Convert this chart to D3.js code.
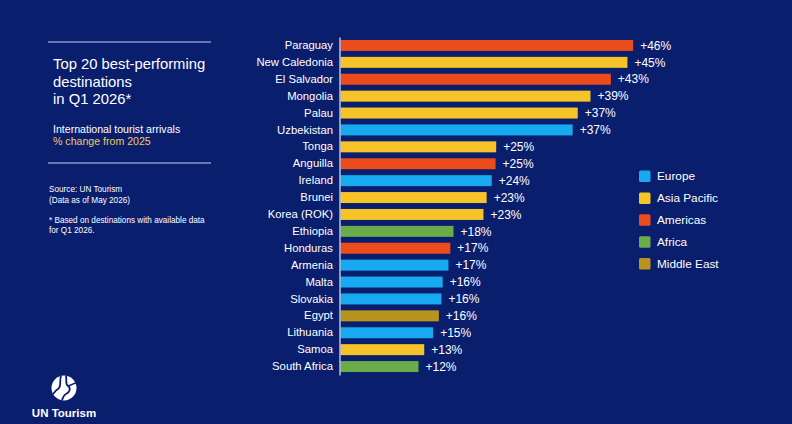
<!DOCTYPE html>
<html>
<head>
<meta charset="utf-8">
<script src="https://cdn.jsdelivr.net/npm/d3@7"></script>
<style>
  html, body { margin: 0; padding: 0; background: #0a1e6e; }
  svg { display: block; font-family: "Liberation Sans", Arial, sans-serif; }
</style>
</head>
<body>
<svg id="chart" width="792" height="424"></svg>
<script>
// ---- data ----
const countries = ["Paraguay","New Caledonia","El Salvador","Mongolia","Palau","Uzbekistan","Tonga","Anguilla","Ireland","Brunei","Korea (ROK)","Ethiopia","Honduras","Armenia","Malta","Slovakia","Egypt","Lithuania","Samoa","South Africa"];
const changes = [46.1, 45.2, 42.6, 39.4, 37.4, 36.6, 24.6, 24.5, 23.9, 23.1, 22.6, 17.9, 17.4, 17.1, 16.2, 16.0, 15.6, 14.7, 13.3, 12.4];
const regions = ["Americas","Asia Pacific","Americas","Asia Pacific","Asia Pacific","Europe","Asia Pacific","Americas","Europe","Asia Pacific","Asia Pacific","Africa","Americas","Europe","Europe","Europe","Middle East","Europe","Asia Pacific","Africa"];
const legendRegions = ["Europe","Asia Pacific","Americas","Africa","Middle East"];
const regionColors = ["#17aaf0","#f6c428","#ec4b1c","#6aac4a","#b8941e"];

const rows = countries.map((c, i) => ({country: c, value: changes[i], region: regions[i]}));

const svg = d3.select("#chart");
const W = 792, H = 424;
svg.append("rect").attr("width", W).attr("height", H).attr("fill", "#0a1e6e");

const color = d3.scaleOrdinal().domain(legendRegions).range(regionColors);

// ---- scales ----
const x0 = 339.5;
const x = d3.scaleLinear().domain([0, 50]).range([x0, x0 + 50 * 6.37]);
const y = d3.scaleBand().domain(countries).range([37, 375]).paddingInner(0.35).paddingOuter(0.175);

// bars
svg.append("g").selectAll("rect").data(rows).join("rect")
  .attr("x", x(0) + 1)
  .attr("y", d => y(d.country))
  .attr("width", d => x(d.value) - x(0) - 1)
  .attr("height", y.bandwidth())
  .attr("fill", d => color(d.region));

// value labels
svg.append("g").selectAll("text").data(rows).join("text")
  .attr("x", d => x(d.value) + 7)
  .attr("y", d => y(d.country) + y.bandwidth() / 2)
  .attr("dy", "0.35em")
  .attr("fill", "#ffffff")
  .attr("font-size", 12)
  .text(d => "+" + Math.round(d.value) + "%");

// y axis
const yAxis = svg.append("g")
  .attr("transform", `translate(${x0},0)`)
  .call(d3.axisLeft(y).tickSize(0).tickSizeOuter(0).tickPadding(6.5));
yAxis.select(".domain").attr("stroke", "#d4daf0").attr("stroke-width", 1.3);
yAxis.selectAll("text")
  .attr("fill", "#ffffff")
  .attr("font-size", 11.3)
  .attr("font-family", "'Liberation Sans', Arial, sans-serif");

// legend
const lg = svg.append("g").attr("transform", "translate(639,176)");
const li = lg.selectAll("g").data(legendRegions).join("g")
  .attr("transform", (d, i) => `translate(0,${i * 21.9})`);
li.append("rect").attr("x", 0).attr("y", -5.5).attr("width", 11.5).attr("height", 11.5)
  .attr("rx", 1.5).attr("fill", d => color(d));
li.append("text").attr("x", 18).attr("y", 0).attr("dy", "0.35em")
  .attr("fill", "#ffffff").attr("font-size", 11.8).text(d => d);

// ---- left panel ----
const panel = svg.append("g");
panel.append("line").attr("x1", 48).attr("x2", 211).attr("y1", 42).attr("y2", 42)
  .attr("stroke", "#c9d0ee").attr("stroke-width", 1.2);
panel.append("line").attr("x1", 48).attr("x2", 211).attr("y1", 163).attr("y2", 163)
  .attr("stroke", "#c9d0ee").attr("stroke-width", 1.2);

const titleLines = ["Top 20 best-performing", "destinations", "in Q1 2026*"];
panel.append("g").selectAll("text").data(titleLines).join("text")
  .attr("x", 53).attr("y", (d, i) => 69 + i * 17.6)
  .attr("fill", "#ffffff").attr("font-size", 14.8).text(d => d);

panel.append("text").attr("x", 53).attr("y", 132.5)
  .attr("fill", "#ffffff").attr("font-size", 10.6).text("International tourist arrivals");
panel.append("text").attr("x", 53).attr("y", 145)
  .attr("fill", "#f0c860").attr("font-size", 10.6).text("% change from 2025");

const noteLines = [["Source: UN Tourism", 192], ["(Data as of May 2026)", 202.5], ["* Based on destinations with available data", 222.5], ["for Q1 2026.", 232.5]];
panel.append("g").selectAll("text").data(noteLines).join("text")
  .attr("x", 49).attr("y", d => d[1])
  .attr("fill", "#ffffff").attr("font-size", 8.2).text(d => d[0]);

// logo
const logo = svg.append("g").attr("transform", "translate(64,388)");
logo.append("circle").attr("r", 12.5).attr("fill", "#ffffff");
logo.append("path").attr("d", "M-3,-12.5 C-5,-6 -2,-2 -6,1 C-9,3 -10,5 -11,6")
  .attr("fill", "none").attr("stroke", "#0a1e6e").attr("stroke-width", 1.8);
logo.append("path").attr("d", "M2,-12.5 C3,-7 1,-4 4,-2 C7,0 6,4 2,6 C0,7 -1,9 -2,12.5")
  .attr("fill", "none").attr("stroke", "#0a1e6e").attr("stroke-width", 1.8);
logo.append("path").attr("d", "M4,-2 C8,-3 10,-5 12,-5")
  .attr("fill", "none").attr("stroke", "#0a1e6e").attr("stroke-width", 1.5);
svg.append("text").attr("x", 64).attr("y", 417).attr("text-anchor", "middle")
  .attr("fill", "#ffffff").attr("font-size", 11.5).attr("font-weight", "bold").text("UN Tourism");
</script>
</body>
</html>
